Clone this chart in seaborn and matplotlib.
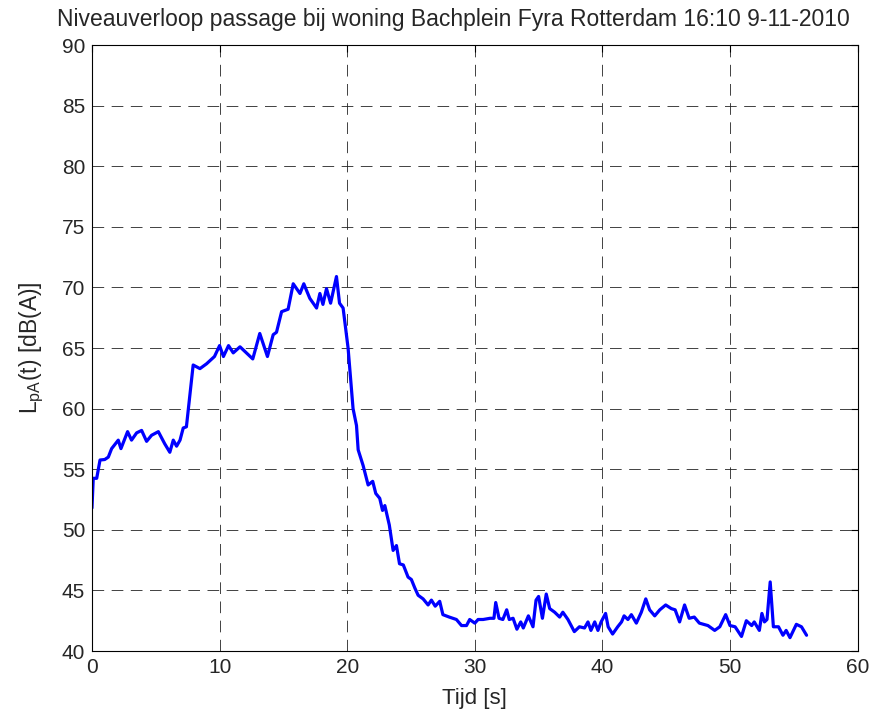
import matplotlib
matplotlib.use("Agg")
import matplotlib.pyplot as plt
import seaborn as sns
import numpy as np
import pandas as pd

# level vs time
tijd = [0.0, 0.1, 0.37, 0.63, 1.0, 1.28, 1.54, 2.06, 2.27, 2.79, 3.1, 3.5, 3.89, 4.28,
        4.67, 5.2, 5.7, 6.1, 6.37, 6.63, 6.9, 7.15, 7.4, 7.93, 8.46, 8.98, 9.6, 10.0,
        10.3, 10.7, 11.07, 11.6, 12.0, 12.6, 13.15, 13.75, 14.2, 14.46, 14.86, 15.37,
        15.77, 16.3, 16.6, 17.07, 17.6, 17.86, 18.1, 18.38, 18.7, 19.16, 19.4, 19.68,
        20.07, 20.46, 20.73, 20.86, 21.25, 21.64, 22.0, 22.24, 22.55, 22.77, 22.95,
        23.3, 23.6, 23.86, 24.1, 24.4, 24.77, 25.03, 25.3, 25.56, 25.95, 26.34, 26.6,
        26.9, 27.25, 27.5, 28.0, 28.56, 28.96, 29.35, 29.6, 30.0, 30.26, 30.65, 31.2,
        31.5, 31.64, 31.9, 32.2, 32.5, 32.7, 33.0, 33.3, 33.6, 33.8, 34.2, 34.56, 34.8,
        35.0, 35.3, 35.6, 35.87, 36.26, 36.65, 36.9, 37.3, 37.8, 38.2, 38.6, 38.87,
        39.1, 39.4, 39.65, 39.9, 40.25, 40.45, 40.8, 41.2, 41.5, 41.7, 42.0, 42.27,
        42.66, 43.05, 43.4, 43.7, 44.1, 44.5, 44.96, 45.4, 45.7, 46.05, 46.44, 46.8,
        47.2, 47.6, 48.27, 48.8, 49.2, 49.66, 50.0, 50.4, 50.9, 51.28, 51.7, 51.9,
        52.3, 52.5, 52.7, 52.9, 53.15, 53.4, 53.8, 54.15, 54.4, 54.7, 55.2, 55.6, 56.0]
niveau = [51.8, 54.25, 54.25, 55.76, 55.8, 56.0, 56.7, 57.4, 56.7, 58.1, 57.4, 58.0,
          58.2, 57.3, 57.8, 58.1, 57.1, 56.4, 57.4, 56.9, 57.4, 58.4, 58.5, 63.6,
          63.3, 63.7, 64.3, 65.2, 64.3, 65.2, 64.6, 65.1, 64.7, 64.1, 66.2, 64.3,
          66.1, 66.3, 68.0, 68.2, 70.3, 69.5, 70.3, 69.1, 68.3, 69.5, 68.6, 69.9,
          68.7, 70.9, 68.7, 68.3, 65.0, 60.0, 58.6, 56.6, 55.3, 53.7, 54.0, 53.0,
          52.6, 51.6, 52.0, 50.4, 48.3, 48.7, 47.2, 47.1, 46.1, 45.9, 45.2, 44.6,
          44.3, 43.8, 44.2, 43.7, 44.1, 43.0, 42.8, 42.6, 42.1, 42.1, 42.6, 42.3,
          42.6, 42.6, 42.7, 42.7, 44.0, 42.7, 42.6, 43.4, 42.6, 42.7, 41.8, 42.4,
          41.9, 42.9, 42.0, 44.2, 44.5, 42.7, 44.7, 43.5, 43.2, 42.8, 43.2, 42.6,
          41.6, 42.0, 41.9, 42.4, 41.7, 42.4, 41.7, 42.4, 43.1, 42.0, 41.4, 42.0,
          42.4, 42.9, 42.6, 43.0, 42.3, 43.2, 44.3, 43.4, 42.9, 43.4, 43.8, 43.5,
          43.4, 42.4, 43.8, 42.7, 42.8, 42.3, 42.1, 41.7, 42.0, 43.0, 42.1, 42.0,
          41.2, 42.5, 42.1, 42.4, 41.7, 43.1, 42.4, 42.6, 45.7, 42.0, 42.0, 41.3,
          41.7, 41.1, 42.2, 42.0, 41.3]

x_ticks = [0, 10, 20, 30, 40, 50, 60]
y_ticks = [40, 45, 50, 55, 60, 65, 70, 75, 80, 85, 90]

df = pd.DataFrame({"Tijd": tijd, "Niveau": niveau})

sns.set_style("white")
plt.rcParams["font.family"] = ["Liberation Sans", "DejaVu Sans"]
plt.rcParams["mathtext.fontset"] = "custom"
plt.rcParams["mathtext.rm"] = "Liberation Sans"
plt.rcParams["mathtext.it"] = "Liberation Sans"

fig = plt.figure(figsize=(8.76, 7.15), dpi=100)
ax = fig.add_axes([0.105, 0.0895, 0.874, 0.8475])

sns.lineplot(data=df, x="Tijd", y="Niveau", color="#0000ff", linewidth=2.3,
             ax=ax, sort=False)

ax.set_xlim(0, 60)
ax.set_ylim(40, 90)
ax.set_xticks(x_ticks)
ax.set_yticks(y_ticks)
ax.tick_params(direction="in", top=True, right=True, labelsize=15,
               length=5, width=0.8, color="k", pad=5)
for s in ax.spines.values():
    s.set_visible(True)
    s.set_color("k")
    s.set_linewidth(0.8)
ax.grid(True, color="#222222", linestyle=(0, (14, 9)), linewidth=0.6)

ax.set_xlabel("Tijd [s]", fontsize=16, labelpad=8)
ax.set_ylabel(r"$\mathregular{L_{pA}}$(t) [dB(A)]", fontsize=16.5, labelpad=11)
ax.set_title("Niveauverloop passage bij woning Bachplein Fyra Rotterdam 16:10 9-11-2010",
             fontsize=16.5, pad=14)
ax.title.set_x(0.472)

plt.savefig("out.png", dpi=100)
